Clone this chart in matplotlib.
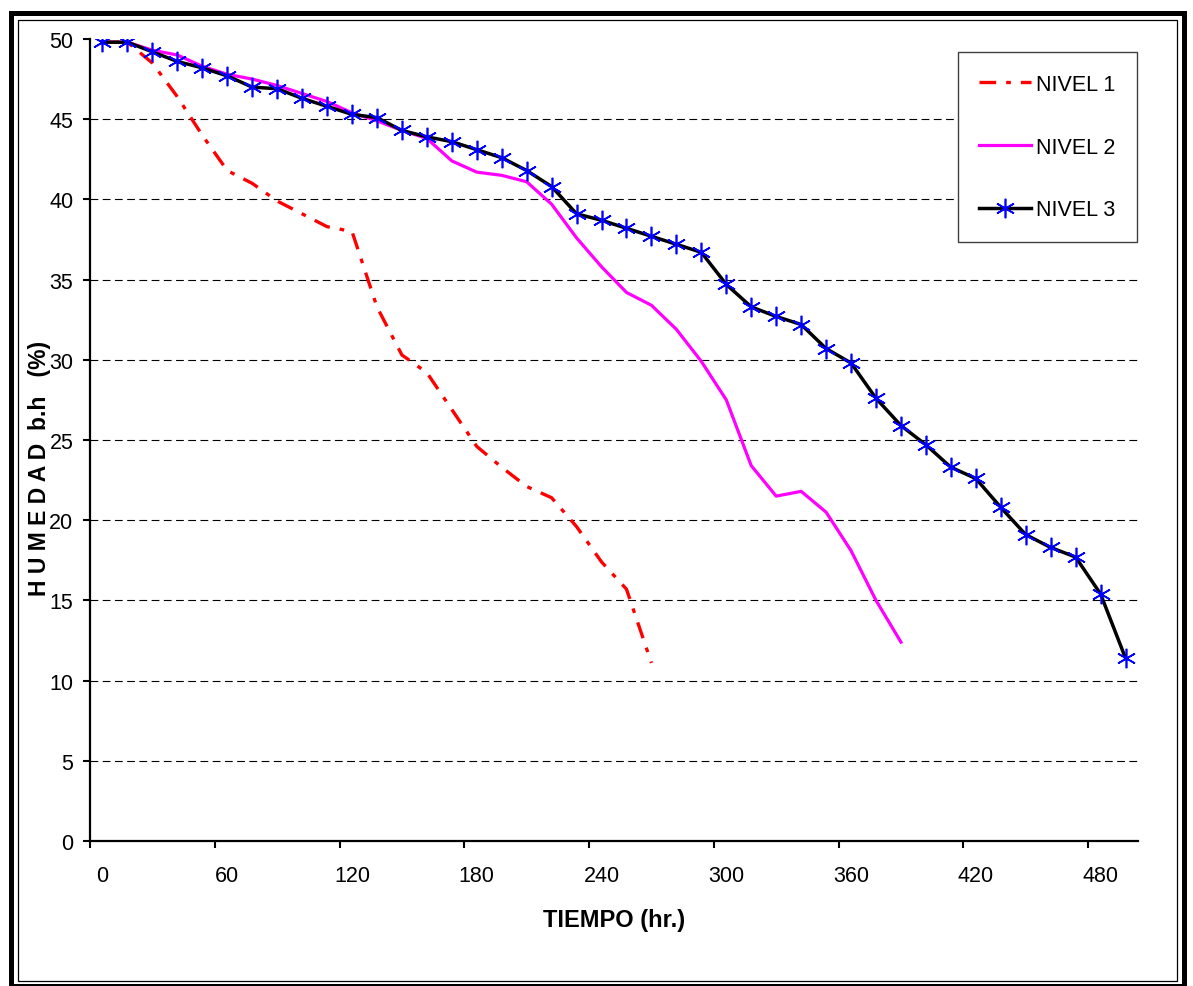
import matplotlib
matplotlib.use("Agg")
import matplotlib.pyplot as plt
from matplotlib.patches import Rectangle

plt.rcParams['font.family'] = ['Liberation Sans', 'DejaVu Sans']

# categories (hours), one every 12 h
tiempo = [0, 12, 24, 36, 48, 60, 72, 84, 96, 108, 120, 132, 144, 156, 168,
          180, 192, 204, 216, 228, 240, 252, 264, 276, 288, 300, 312, 324,
          336, 348, 360, 372, 384, 396, 408, 420, 432, 444, 456, 468, 480, 492]

nivel1 = [49.8, 49.8, 48.5, 46.4, 44.0, 41.8, 41.0, 39.9, 39.1, 38.3, 38.0,
          33.3, 30.3, 29.2, 26.9, 24.6, 23.3, 22.1, 21.4, 19.6, 17.4, 15.7, 11.1]

nivel2 = [49.8, 49.8, 49.3, 49.0, 48.3, 47.8, 47.5, 47.1, 46.6, 46.1, 45.4,
          44.9, 44.3, 43.8, 42.4, 41.7, 41.5, 41.1, 39.7, 37.6, 35.8, 34.2,
          33.4, 31.9, 29.9, 27.5, 23.4, 21.5, 21.8, 20.5, 18.1, 15.0, 12.4]

nivel3 = [49.8, 49.8, 49.2, 48.6, 48.2, 47.7, 47.0, 46.9, 46.3, 45.8, 45.3,
          45.1, 44.3, 43.9, 43.6, 43.1, 42.6, 41.8, 40.8, 39.1, 38.7, 38.2,
          37.7, 37.2, 36.7, 34.7, 33.3, 32.7, 32.2, 30.7, 29.8, 27.6, 25.9,
          24.7, 23.3, 22.6, 20.8, 19.1, 18.3, 17.7, 15.4, 11.4]

x_labels = [0, 60, 120, 180, 240, 300, 360, 420, 480]
y_ticks = [0, 5, 10, 15, 20, 25, 30, 35, 40, 45, 50]

W, H = 1193, 987
fig = plt.figure(figsize=(W / 100, H / 100), dpi=100)
ax = fig.add_axes([90 / W, 1 - 842 / H, (1138 - 90) / W, (842 - 40) / H])

# gridlines (no line at 50)
for v in y_ticks[1:-1]:
    ax.axhline(v, color='black', lw=0.8, dashes=(7, 4), zorder=1)

l1, = ax.plot(tiempo[:len(nivel1)], nivel1, color='#FF0000', lw=2.4, zorder=2,
              label='NIVEL 1')
l1.set_dashes((5, 3, 1.4, 3))
ax.plot(tiempo[:len(nivel2)], nivel2, color='#FF00FF', lw=2.3, zorder=3,
        label='NIVEL 2')
ax.plot(tiempo, nivel3, color='black', lw=2.5, zorder=4, label='NIVEL 3',
        marker=(6, 2, 0), markersize=14, markeredgecolor='#0000FF',
        markeredgewidth=1.2)

ax.set_xlim(-6, 498)
ax.set_ylim(0, 50)

# category axis: ticks between categories, labels on the categories
ax.set_xticks(x_labels)
ax.set_xticklabels([str(v) for v in x_labels])
ax.set_xticks([-6, 54, 114, 174, 234, 294, 354, 414, 474], minor=True)
ax.tick_params(axis='x', which='major', length=0, pad=17, labelsize=15.5)
ax.tick_params(axis='x', which='minor', length=5, width=1.5, direction='out')

ax.set_yticks(y_ticks)
ax.tick_params(axis='y', length=5, width=1.5, direction='out', pad=7, labelsize=15.5)

for s in ['top', 'right']:
    ax.spines[s].set_visible(False)
for s in ['left', 'bottom']:
    ax.spines[s].set_linewidth(1.6)

fig.text(614 / W, 1 - 921 / H, 'TIEMPO (hr.)', fontsize=17, fontweight='bold',
         ha='center', va='center')
fig.text(40 / W, 1 - 468 / H, 'H U M E D A D  b.h   (%)', fontsize=16.5,
         fontweight='bold', rotation=90, ha='center', va='center')

leg = ax.legend(loc='upper right', bbox_to_anchor=(1137 / W, 1 - 53 / H),
                bbox_transform=fig.transFigure, borderaxespad=0, fontsize=15.5,
                numpoints=1, handlelength=2.4, handletextpad=0.25,
                labelspacing=1.95, borderpad=1.0, fancybox=False,
                edgecolor='#404040', framealpha=1)
leg.get_frame().set_linewidth(1.0)

# double frame around the whole chart
fig.add_artist(Rectangle((10.5 / W, 0), (1184 - 10.5) / W, 1 - 13.5 / H,
                         transform=fig.transFigure, fill=False, lw=3.6,
                         edgecolor='black'))
fig.add_artist(Rectangle((18 / W, 5 / H), (1177 - 18) / W, 1 - 21 / H - 5 / H,
                         transform=fig.transFigure, fill=False, lw=0.9,
                         edgecolor='black'))

fig.savefig('out.png', dpi=100)
